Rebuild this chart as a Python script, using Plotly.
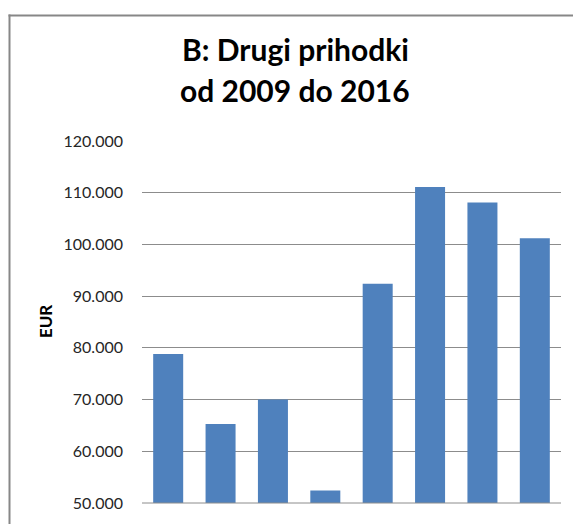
import plotly.graph_objects as go

years = ["2009", "2010", "2011", "2012", "2013", "2014", "2015", "2016"]
values = [78800, 65300, 70000, 52400, 92400, 111100, 108100, 101200]
tick_vals = [50000, 60000, 70000, 80000, 90000, 100000, 110000, 120000]
tick_text = ["50.000", "60.000", "70.000", "80.000", "90.000", "100.000", "110.000", "120.000"]
title_lines = ["B: Drugi prihodki", "od 2009 do 2016"]
y_title = "EUR"

W, H = 573, 524
ML, MR, MT, MB = 142, 12, 141, 15.7
PW, PH = W - ML - MR, H - MT - MB

def px_x(x):
    return (x - ML) / PW

def px_y(y):
    return (H - MB - y) / PH

fig = go.Figure(go.Bar(
    x=years, y=values,
    marker=dict(color="#4F81BD", line=dict(width=0)),
    hoverinfo="skip",
))

border = dict(color="#878787", width=2)

fig.update_layout(
    width=W, height=H,
    margin=dict(l=ML, r=MR, t=MT, b=MB),
    paper_bgcolor="white", plot_bgcolor="white",
    bargap=0.427,
    showlegend=False,
    hovermode=False,
    font=dict(family="Lato", color="#262626"),
    xaxis=dict(showticklabels=False, showgrid=False, zeroline=False,
               showline=False, ticks="", range=[-0.5, 7.5]),
    yaxis=dict(range=[50000, 120000], tickvals=tick_vals, ticktext=tick_text,
               showgrid=True, gridcolor="#8C8C8C", gridwidth=1,
               zeroline=False, showline=False, ticks="",
               ticklabelstandoff=18, ticklabeloverflow="allow",
               tickfont=dict(family="Lato", size=16, color="#262626")),
    shapes=[
        dict(type="line", xref="paper", yref="paper",
             x0=0, x1=1, y0=0, y1=0, line=dict(color="#8C8C8C", width=1)),
        # chart-area border (top and left edges; right/bottom lie outside the window)
        dict(type="line", xref="paper", yref="paper",
             x0=px_x(8.5), x1=px_x(W + 40), y0=px_y(13.7), y1=px_y(13.7),
             line=border, layer="above"),
        dict(type="line", xref="paper", yref="paper",
             x0=px_x(9.5), x1=px_x(9.5), y0=px_y(12.7), y1=px_y(H + 40),
             line=border, layer="above"),
    ],
    annotations=[
        dict(text="<b>%s</b>" % title_lines[0], xref="paper", yref="paper",
             x=px_x(295), y=px_y(48), xanchor="center", yanchor="middle",
             showarrow=False, font=dict(family="Lato", size=30, color="#000000")),
        dict(text="<b>%s</b>" % title_lines[1], xref="paper", yref="paper",
             x=px_x(295), y=px_y(89.5), xanchor="center", yanchor="middle",
             showarrow=False, font=dict(family="Lato", size=30, color="#000000")),
        dict(text="<b>%s</b>" % y_title, xref="paper", yref="paper",
             x=px_x(45.7), y=px_y(324), xanchor="center", yanchor="middle",
             textangle=-90, showarrow=False,
             font=dict(family="Lato", size=17, color="#000000")),
    ],
)

# remove the default page margin so the figure fills the window exactly
post = ("document.body.style.margin='0';"
        "document.documentElement.style.overflow='hidden';"
        "document.body.style.overflow='hidden';")

fig.write_html("out.html", post_script=post,
               config={"displayModeBar": False, "staticPlot": True})
